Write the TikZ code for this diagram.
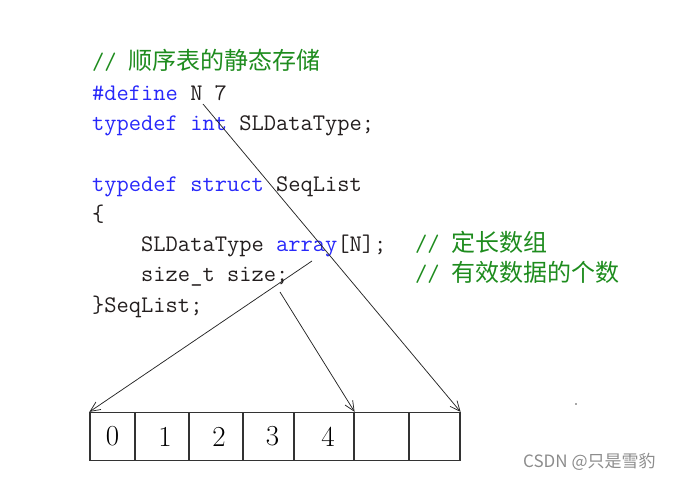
\documentclass[tikz,border=0pt]{standalone}
\usepackage{fontspec}
\newfontfamily\cjk{Noto Sans CJK SC}
\usepackage{xcolor}
\definecolor{codeblue}{RGB}{40, 40, 250}
\definecolor{codegreen}{RGB}{30, 140, 30}
\definecolor{codeink}{RGB}{35, 30, 30}
\definecolor{wmgray}{RGB}{140, 140, 140}
\usetikzlibrary{arrows.meta}
\newcommand{\kw}[1]{\textcolor{codeblue}{#1}}
\newcommand{\zh}[1]{{\cjk\fontsize{24}{24}\selectfont #1}}
\newcommand{\codeind}{\phantom{xxxx}}
\tikzset{
  % --- CODE TEXT ---
  code-line/.style={
    anchor=base west,
    inner sep=0pt,
    text=codeink,
    font=\fontsize{23.8}{24}\selectfont\ttfamily
  },
  code-comment/.style={
    code-line,
    text=codegreen
  },
  % --- ARRAY ---
  cell/.style={
    draw=black!80,
    line width=1.2pt,
    minimum height=48pt,
    inner sep=0pt,
    font=\fontsize{29}{29}\selectfont
  },
  % --- ARROWS ---
  arrw/.style={
    draw=black!85,
    line width=0.75pt,
    -{Straight Barb[length=10pt,width=9pt]}
  },
  wm-text/.style={
    text=wmgray,
    inner sep=0pt,
    font=\cjk\fontsize{17}{17}\selectfont
  },
}
\begin{document}
\begin{tikzpicture}[x=1pt, y=-1pt]
  \useasboundingbox (0,0) rectangle (673,478);

  % --- code
  \node[code-comment] (l1) at (92,70)  {// \zh{顺序表的静态存储}};
  \node[code-line]    (l2) at (92,101) {\kw{\#define} N 7};
  \node[code-line]    (l3) at (92,131) {\kw{typedef} \kw{int} SLDataType;};
  \node[code-line]    (l5) at (92,192) {\kw{typedef} \kw{struct} SeqList};
  \node[code-line]    (l6) at (92,222) {\{};
  \node[code-line]    (l7) at (92,252) {\codeind SLDataType \kw{array}[N];};
  \node[code-comment] (c7) at (415,252) {// \zh{定长数组}};
  \node[code-line]    (l8) at (92,282) {\codeind size\_t size;};
  \node[code-comment] (c8) at (415,282) {// \zh{有效数据的个数}};
  \node[code-line]    (l9) at (92,313) {\}SeqList;};

  % --- array cells
  \node[cell, minimum width=45pt] (c0) at (112.5,436.5) {0};
  \node[cell, minimum width=54pt] (c1) at (162,436.5)   {\hspace{6pt}1};
  \node[cell, minimum width=54pt] (c2) at (216,436.5)   {\hspace{6pt}2};
  \node[cell, minimum width=51pt] (c3) at (268.5,436.5) {\hspace{8pt}3};
  \node[cell, minimum width=60pt] (c4) at (324,436.5)   {\hspace{8pt}4};
  \node[cell, minimum width=55pt] (c5) at (381.5,436.5) {};
  \node[cell, minimum width=51pt] (c6) at (434.5,436.5) {};

  % --- arrows
  \coordinate (fromN)    at (203,104);
  \coordinate (fromArr)  at (312,261);
  \coordinate (fromSize) at (280,292);
  \draw[arrw] (fromN)    -- (c6.north east);
  \draw[arrw] (fromArr)  -- (c0.north west);
  \draw[arrw] (fromSize) -- (c4.north east);

  \fill[black!70] (576,404) circle (0.8);
  \node[wm-text, anchor=west] (wm) at (523,462) {CSDN @只是雪豹};

\end{tikzpicture}
\end{document}
